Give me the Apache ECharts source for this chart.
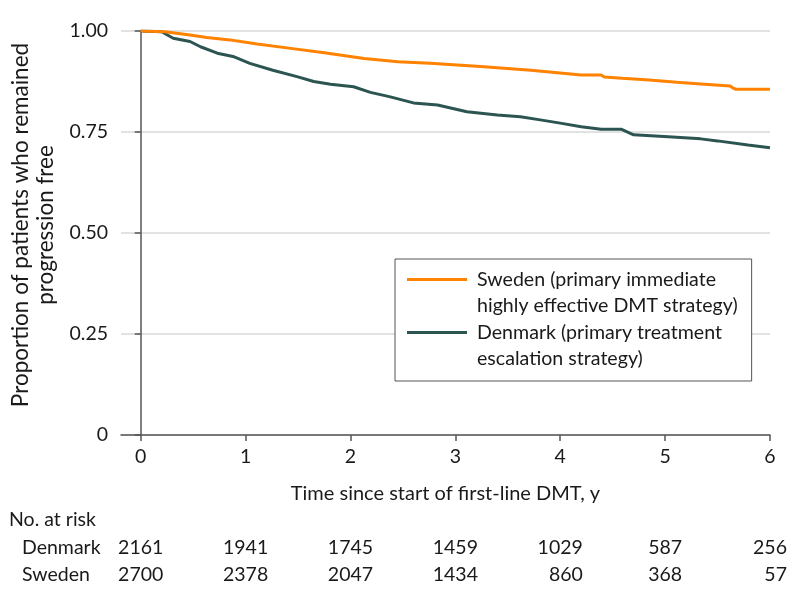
<!DOCTYPE html>
<html>
<head>
<meta charset="utf-8">
<script src="https://cdn.jsdelivr.net/npm/echarts@6/dist/echarts.min.js"></script>
<style>html,body{margin:0;padding:0;background:#fff}#c{width:794px;height:601px}</style>
</head>
<body>
<div id="c"></div>
<script>
// ---- Data ----
var swedenTime = [0, 0.23, 0.47, 0.63, 0.85, 1.11, 1.43, 1.75, 2.13, 2.45, 2.76, 3.24, 3.72, 4.20, 4.39, 4.42, 4.59, 4.85, 5.11, 5.34, 5.62, 5.64, 5.67, 6.00];
var swedenSurv = [1.000, 0.998, 0.990, 0.984, 0.978, 0.968, 0.957, 0.946, 0.932, 0.924, 0.920, 0.912, 0.903, 0.891, 0.891, 0.886, 0.883, 0.879, 0.873, 0.869, 0.864, 0.860, 0.856, 0.856];
var denmarkTime = [0, 0.20, 0.31, 0.47, 0.57, 0.73, 0.88, 1.04, 1.26, 1.49, 1.65, 1.81, 2.03, 2.19, 2.38, 2.60, 2.83, 3.11, 3.40, 3.62, 3.81, 4.00, 4.20, 4.39, 4.58, 4.70, 5.03, 5.34, 5.50, 5.79, 6.00];
var denmarkSurv = [1.000, 0.998, 0.982, 0.974, 0.961, 0.945, 0.937, 0.920, 0.903, 0.887, 0.875, 0.868, 0.862, 0.848, 0.837, 0.822, 0.817, 0.800, 0.792, 0.788, 0.780, 0.772, 0.763, 0.757, 0.757, 0.743, 0.738, 0.733, 0.728, 0.718, 0.711];
var xTicks = [0, 1, 2, 3, 4, 5, 6];
var riskTimes = [0, 1, 2, 3, 4, 5, 6];
var denmarkRisk = [2161, 1941, 1745, 1459, 1029, 587, 256];
var swedenRisk = [2700, 2378, 2047, 1434, 860, 368, 57];
var swedenName = 'Sweden (primary immediate\nhighly effective DMT strategy)';
var denmarkName = 'Denmark (primary treatment\nescalation strategy)';

function pairs(t, s) { return t.map(function (v, i) { return [v, s[i]]; }); }

var FONT = 'Lato';
var FS = 19.5;
var TXT = '#1a1a1a';
var AX = '#555555';

var chart = echarts.init(document.getElementById('c'), null, {renderer: 'canvas'});
var option = {
  animation: false,
  textStyle: {fontFamily: FONT},
  grid: {left: 121, right: 24, top: 31, bottom: 166, containLabel: false},
  xAxis: {
    type: 'value', min: -0.188, max: 6,
    name: 'Time since start of first-line DMT, y',
    nameLocation: 'middle', nameGap: 49,
    nameTextStyle: {fontFamily: FONT, fontSize: 20, color: TXT},
    axisLine: {show: true, onZero: false, lineStyle: {color: AX, width: 1.5}},
    axisTick: {show: true, inside: false, length: 6, customValues: xTicks, lineStyle: {color: AX, width: 1.5}},
    axisLabel: {customValues: xTicks, fontFamily: FONT, fontSize: FS, color: TXT, margin: 12},
    splitLine: {show: false}
  },
  yAxis: {
    type: 'value', min: 0, max: 1, interval: 0.25,
    name: 'Proportion of patients who remained\nprogression free',
    nameLocation: 'middle', nameGap: 62,
    nameTextStyle: {fontFamily: FONT, fontSize: 22.5, color: TXT, lineHeight: 25, align: 'center', padding: [0, 0, 0, 16]},
    axisLine: {show: true, lineStyle: {color: AX, width: 1.5}},
    axisTick: {show: true, inside: false, length: 6, lineStyle: {color: AX, width: 1.5}},
    axisLabel: {fontFamily: FONT, fontSize: FS, color: TXT, margin: 13,
      formatter: function (v) { return v === 0 ? '0' : v.toFixed(2); }},
    splitLine: {show: true, lineStyle: {color: '#d9d9d9', width: 1.5}}
  },
  legend: {
    show: true, orient: 'vertical', left: 395, top: 259,
    data: [swedenName, denmarkName],
    selectedMode: false,
    icon: 'path://M0,0L0.01,0L0.01,0.01Z M0,12L60,12L60,15L0,15Z M64.99,52.99L65,52.99L65,53Z',
    itemWidth: 65, itemHeight: 53, itemGap: 0,
    itemStyle: {borderWidth: 0},
    backgroundColor: '#ffffff', borderColor: '#555555', borderWidth: 1, borderRadius: 0,
    padding: [7, 14, 9, 12],
    textStyle: {fontFamily: FONT, fontSize: 19.6, color: TXT, lineHeight: 26.5}
  },
  series: [
    {
      name: denmarkName, type: 'line', data: pairs(denmarkTime, denmarkSurv),
      showSymbol: false, symbol: 'none', color: '#2c5551',
      lineStyle: {color: '#2c5551', width: 3}, z: 3
    },
    {
      name: swedenName, type: 'line', data: pairs(swedenTime, swedenSurv),
      showSymbol: false, symbol: 'none', color: '#ff8200',
      lineStyle: {color: '#ff8200', width: 3}, z: 4
    }
  ]
};
chart.setOption(option);

// ---- Number-at-risk table, positioned through the x axis scale ----
var ctx = document.createElement('canvas').getContext('2d');
ctx.font = FS + 'px ' + FONT;
function w(s) { return ctx.measureText(String(s)).width; }
var rowY = {head: 520, den: 548, swe: 575};
var g = [
  {type: 'text', x: 9, y: rowY.head, style: {text: 'No. at risk', font: FS + 'px ' + FONT, fill: TXT, verticalAlign: 'middle'}},
  {type: 'text', x: 22, y: rowY.den, style: {text: 'Denmark', font: FS + 'px ' + FONT, fill: TXT, verticalAlign: 'middle'}},
  {type: 'text', x: 22, y: rowY.swe, style: {text: 'Sweden', font: FS + 'px ' + FONT, fill: TXT, verticalAlign: 'middle'}}
];
riskTimes.forEach(function (t, i) {
  var px = chart.convertToPixel({xAxisIndex: 0}, t);
  var maxW = Math.max(w(denmarkRisk[i]), w(swedenRisk[i]));
  var right = px + maxW / 2;
  [[denmarkRisk[i], rowY.den], [swedenRisk[i], rowY.swe]].forEach(function (r) {
    g.push({type: 'text', x: right, y: r[1],
      style: {text: String(r[0]), font: FS + 'px ' + FONT, fill: TXT, align: 'right', verticalAlign: 'middle'}});
  });
});
chart.setOption({graphic: g});
</script>
</body>
</html>
